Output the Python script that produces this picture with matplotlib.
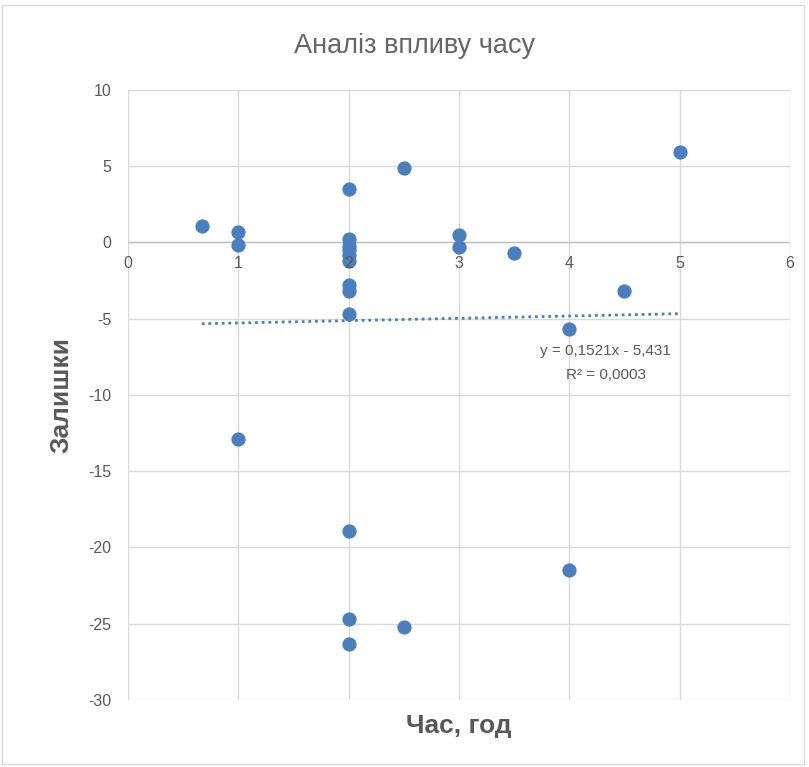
import matplotlib.pyplot as plt
from matplotlib.patches import Rectangle

plt.rcParams['font.family'] = ['Liberation Sans', 'DejaVu Sans']
plt.rcParams['axes.unicode_minus'] = False

# --- Data ---
hours = [0.67, 1, 1, 1,
         2, 2, 2, 2, 2, 2, 2, 2, 2, 2, 2, 2,
         2.5, 2.5, 3, 3, 3.5, 4, 4, 4.5, 5]
residuals = [1.1, 0.7, -0.15, -12.9,
             3.5, 0.2, -0.2, -0.5, -0.8, -1.2, -2.8, -3.2, -4.7, -18.9, -24.7, -26.3,
             4.9, -25.2, 0.5, -0.3, -0.7, -5.7, -21.5, -3.2, 5.9]
slope = 0.1521
intercept = -5.431
r2 = 0.0003

blue = '#4A7EBF'
grey_text = '#595959'

fig = plt.figure(figsize=(8.09, 7.67), dpi=100)
ax = fig.add_axes([0.158, 0.0874, 0.8185, 0.7953])

ax.scatter(hours, residuals, s=105, color=blue, zorder=3, linewidths=0)

# trendline
x0, x1 = min(hours), max(hours)
ax.plot([x0, x1], [slope * x0 + intercept, slope * x1 + intercept],
        linestyle=(0, (1, 1.4)), color=blue, linewidth=2, zorder=2)

ax.text(4.33, -7.1, "y = 0,1521x - 5,431", ha='center', va='center',
        fontsize=11, color=grey_text)
ax.text(4.33, -8.7, "R² = 0,0003", ha='center', va='center',
        fontsize=11, color=grey_text)

ax.set_xlim(0, 6)
ax.set_ylim(-30, 10)
ax.set_xticks(range(0, 7))
ax.set_yticks(range(-30, 11, 5))
ax.grid(True, color='#D9D9D9', linewidth=1)
ax.set_axisbelow(True)
ax.axhline(0, color='#BFBFBF', linewidth=1, zorder=1)
for s in ax.spines.values():
    s.set_visible(False)

ax.tick_params(length=0, labelsize=11.5, labelcolor=grey_text)
ax.tick_params(axis='y', pad=12)
# x tick labels sit just under the zero line, drawn over the points
ax.tick_params(axis='x', labelbottom=False)
for t in range(0, 7):
    ax.text(t, -0.9, str(t), ha='center', va='top', fontsize=11.5,
            color=grey_text, zorder=5)

fig.text(0.513, 0.94, "Аналіз впливу часу", ha='center', va='center',
         fontsize=19.5, color='#666666')
ax.text(0.5, -0.043, "Час, год", transform=ax.transAxes, ha='center', va='center',
        fontsize=19, fontweight='bold', color=grey_text)
ax.text(-0.1, 0.5, "Залишки", transform=ax.transAxes, ha='center', va='center',
        rotation=90, fontsize=19, fontweight='bold', color=grey_text)

fig.patches.append(Rectangle((0.002, 0.004), 0.992, 0.99, transform=fig.transFigure,
                             fill=False, edgecolor='#D9D9D9', linewidth=1))

fig.savefig('out.png', dpi=100)
